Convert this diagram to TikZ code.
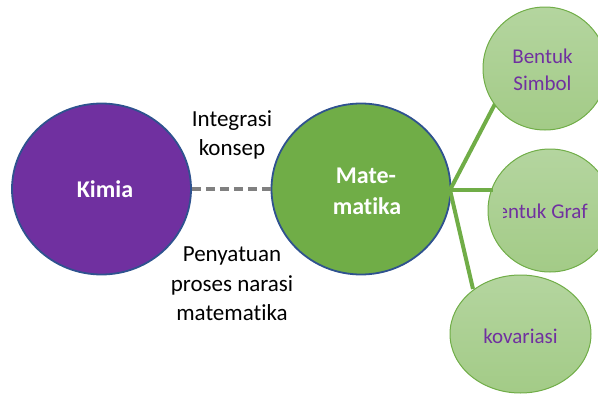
\documentclass[tikz,border=0pt]{standalone}
\usepackage{fontspec}
\setmainfont{Carlito}[Ligatures={NoCommon}]
\usetikzlibrary{shapes.geometric}
\definecolor{kimiapurple}{HTML}{7030A0}
\definecolor{darkblueline}{HTML}{2F528F}
\definecolor{matgreen}{HTML}{70AD47}
\definecolor{lighttop}{HTML}{B4D59F}
\definecolor{lightbot}{HTML}{A3CB87}
\definecolor{dashgray}{HTML}{808080}
\tikzset{
  bigcirc/.style={ellipse, draw=darkblueline, line width=1.8pt, inner sep=0pt,
    minimum width=179pt, minimum height=171pt, text=white,
    font=\fontsize{24}{30}\selectfont\bfseries, align=center},
  subcirc/.style={ellipse, draw=matgreen, line width=1pt, inner sep=0pt,
    top color=lighttop, bottom color=lightbot, minimum width=124pt, minimum height=123pt},
  subtext/.style={text=kimiapurple, font=\fontsize{21}{27}\selectfont, inner sep=0pt},
  labeltext/.style={text=black, font=\fontsize{23}{29.5}\selectfont, align=center, inner sep=0pt},
  whitetext/.style={text=white, font=\fontsize{24}{30}\selectfont\bfseries, anchor=base, inner sep=0pt},
  branch/.style={draw=matgreen, line width=4pt},
  linkline/.style={draw=dashgray, line width=4pt, dash pattern=on 9pt off 5pt}
}
\begin{document}
\begin{tikzpicture}[x=1pt,y=-1pt]
\useasboundingbox (0,0) rectangle (598,394);
% main circles
\node[bigcirc, fill=kimiapurple] (kimia) at (101.5,189) {};
\node[bigcirc, fill=matgreen] (mat) at (361,189) {};
\node[whitetext] (kimiatext) at (105,197) {Kimia};
\node[whitetext] (mate1) at (366,183.5) {Mate-};
\node[whitetext] (mate2) at (367,214) {matika};
% dashed connector
\path[linkline] (kimia.east) -- (mat.west);
% labels
\node[labeltext, anchor=base] (int1) at (232,126) {Integrasi};
\node[labeltext, anchor=base] (int2) at (232,155) {konsep};
\node[labeltext, anchor=base] (pen1) at (232,261.5) {Penyatuan};
\node[labeltext, anchor=base] (pen2) at (232,291) {proses narasi};
\node[labeltext, anchor=base] (pen3) at (232,320.5) {matematika};
% branch end points
\coordinate (hub) at (450,190);
\coordinate (e1) at (496,102);
\coordinate (e2) at (493,190);
\coordinate (e3) at (473,289);
\path[branch] (hub) -- (e1);
\path[branch] (hub) -- (e3);
% sub circles
\node[subcirc] (simbol) at (545,68.5) {};
\node[subcirc] (graf) at (550,210.5) {};
\node[subcirc, minimum width=141pt, minimum height=118pt] (kov) at (520.5,334) {};
\path[branch] (hub) -- (e2);
% sub texts
\node[subtext, anchor=base] (s1) at (542.5,63) {Bentuk};
\node[subtext, anchor=base] (s2) at (542.5,90) {Simbol};
\node[subtext, anchor=base] (k1) at (520.5,343) {kovariasi};
\begin{scope}
\clip (503,150) rectangle (598,272);
\node[subtext, anchor=base west] (g1) at (486,218) {Bentuk Graf};
\end{scope}
\end{tikzpicture}
\end{document}
